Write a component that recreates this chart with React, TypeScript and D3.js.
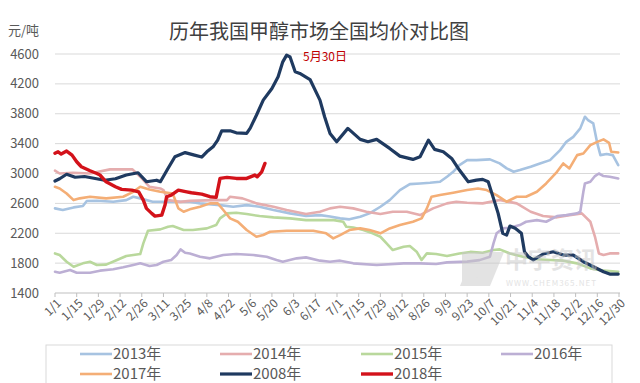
import React from "react";
import * as d3 from "d3";

const tickLabels = ["1/1","1/15","1/29","2/12","2/26","3/11","3/25","4/8","4/22","5/6","5/20","6/3","6/17","7/1","7/15","7/29","8/12","8/26","9/9","9/23","10/7","10/21","11/4","11/18","12/2","12/16","12/30"];
const yTicks = [1400, 1800, 2200, 2600, 3000, 3400, 3800, 4200, 4600];

const days2013 = [0,5,12,18,20.5,27,37.6,46,50.5,55,63,76,87,93.6,106.5,115,123.7,132,141,151.7,162,171,177.5,184,190,197,203,210,216,222.6,229,235.6,242,248.5,253,257,261,266,272,280.7,287,291.5,296,300,307,313,319.5,326,330,334.5,339,342,344,347.4,350,352,356,360,363.5];
const values2013 = [2533,2511,2546,2564,2631,2635,2622,2644,2689,2667,2622,2622,2622,2600,2577,2555,2577,2555,2511,2466,2430,2443,2425,2399,2386,2421,2466,2555,2644,2778,2858,2867,2876,2889,2957,3023,3113,3179,3179,3189,3135,3068,3023,3046,3090,3135,3179,3313,3424,3491,3604,3760,3715,3670,3403,3246,3260,3246,3113];

const days2014 = [0,3,11.6,22.6,35.5,50,55,61,68,70,73,81,87,102,111,113,121,130,141,149.5,162,171,177.5,184,192.5,201,210,218,227,235.6,244,253,259,266,276,287,298,307,315,324,332,340,345.5,348.5,351,354,358,363.5];
const values2014 = [3037,3000,3010,3000,3055,3055,2957,2822,2800,2778,2644,2620,2633,2644,2644,2689,2667,2600,2555,2511,2457,2488,2533,2555,2533,2488,2457,2488,2488,2443,2533,2600,2622,2608,2600,2644,2600,2488,2430,2413,2443,2466,2354,2153,1930,1908,1930,1930];

const days2015 = [0,3,7.5,12,18,22.6,27,33,40,46,55,57,60,68,73,76,83,89,98,104,106.5,111,117,123.7,132,141,151.7,162,180,186,188,192.5,199,205,210,214,218,225,229,233.4,236.6,240,246,253,261,268,276,283,287,293.6,302,311,319.5,328,337,345.5,354,363.5];
const values2015 = [1930,1908,1819,1752,1797,1819,1775,1780,1842,1895,1922,2065,2233,2252,2287,2296,2243,2243,2265,2310,2399,2466,2475,2457,2430,2413,2399,2376,2376,2354,2287,2278,2243,2199,2153,2065,1975,2020,2029,1953,1842,1930,1922,1895,1930,1950,1939,1975,1984,1930,1886,1851,1842,1833,1797,1730,1699,1685];

const days2016 = [0,3,9.7,14,22.6,29,37.6,44,50.5,55,61,65.6,70,75,78.5,81,84,87,93.6,100,108.6,117,128,136.6,143,147,156,162,171,177.5,184,192.5,207.6,225,235.6,246,253,266,274,280.7,283,285,289,293.6,300,304,311,317,324,330,337,339,341,342,345.5,348.5,351,354,358,363.5];
const values2016 = [1685,1672,1708,1672,1672,1699,1717,1744,1775,1797,1761,1775,1819,1842,1908,1984,1939,1930,1886,1864,1908,1922,1908,1886,1842,1819,1864,1877,1833,1819,1833,1797,1775,1797,1797,1788,1810,1820,1840,1886,2065,2199,2265,2274,2310,2354,2376,2354,2430,2443,2466,2488,2755,2867,2889,2966,3000,2966,2957,2934];

const days2017 = [0,3,7.5,12,16,22.6,33,44,50.5,55,61,68,76,79.6,83,87,93.6,100,105,108.6,113,118,123.7,130,134.4,138.8,149.5,158,166.7,175,179.6,184,190,197,203,210,216,222.6,231,236.6,240,243,248.5,257,266,273,278.6,285,291.5,298,304,311,317,324,328,332,337,341,345.5,350,354,357.6,359,363.5];
const values2017 = [2822,2800,2733,2644,2667,2689,2667,2689,2755,2822,2787,2755,2733,2533,2488,2520,2555,2600,2600,2511,2399,2354,2243,2153,2176,2220,2233,2233,2233,2199,2131,2176,2243,2265,2243,2199,2265,2310,2354,2399,2533,2689,2711,2742,2778,2800,2778,2711,2622,2689,2689,2755,2867,3023,3135,3068,3246,3268,3380,3424,3457,3411,3291,3282];

const days2008 = [0,3,7.5,13,19,32,39,46,53.6,59,65.6,68,73,77.4,84,90,94.7,98,102,105,107.6,113,117,123.7,126,130,134.4,140,144,147,149.5,151.7,155,158,164.6,171,174,177.5,181.8,189,197,202,207.6,216,222.6,231,235.6,241,245,250.6,256,261,266.7,272,276,279.6,284,286,289,291.5,293.6,297,301,303,305.5,308.7,315,321.6,328,334.5,341,347.5,354,358,363.5];
const values2008 = [2900,2930,2990,2950,2960,2910,2930,2980,3010,2890,2910,2890,3070,3225,3280,3246,3220,3290,3357,3447,3572,3572,3545,3537,3608,3780,3982,4139,4295,4495,4585,4560,4361,4340,4258,3982,3760,3537,3425,3604,3457,3425,3457,3336,3233,3189,3224,3447,3323,3291,3202,3046,2889,2912,2921,2889,2600,2466,2199,2176,2296,2266,2199,1953,1886,1842,1922,1953,1908,1908,1819,1752,1685,1654,1654];

const days2018 = [0,2,4,7.5,11,14,17,22.6,27,29,33,39,43,49.5,54,57,59,62.4,64.5,68.9,71,72,75,79.6,85,88,94.7,100,104,106.5,111,117,123.7,129,130.5,133.4,135.5];
const values2018 = [3270,3290,3260,3300,3246,3157,3090,3037,3000,2980,2889,2822,2787,2778,2755,2644,2533,2466,2430,2443,2577,2689,2711,2778,2755,2742,2724,2689,2680,2934,2948,2934,2934,2979,2956,3023,3135];

const seriesNames = ["2013年","2014年","2015年","2016年","2017年","2008年","2018年"];
const seriesDays = [days2013, days2014, days2015, days2016, days2017, days2008, days2018];
const seriesValues = [values2013, values2014, values2015, values2016, values2017, values2008, values2018];
const colors = ["#A7C3E1","#E5ADAE","#B9D89C","#BCAFD4","#F4AE76","#1F3A60","#D3121A"];
const widths = [2.6,2.6,2.6,2.6,2.6,3.2,3.4];

export default function App() {
  const W = 640, H = 383;
  const x = d3.scaleLinear().domain([0, 364]).range([55, 619]);
  const y = d3.scaleLinear().domain([1400, 4600]).range([293, 54]);
  const font = "'Noto Sans CJK SC', 'Noto Sans', sans-serif";
  const line = d3.line<[number, number]>().x(d => x(d[0])).y(d => y(d[1]));

  const legendItems = [
    { i: 0, lx: 80, ly: 354 }, { i: 1, lx: 220, ly: 354 }, { i: 2, lx: 361, ly: 354 }, { i: 3, lx: 501, ly: 354 },
    { i: 4, lx: 80, ly: 374 }, { i: 5, lx: 220, ly: 374 }, { i: 6, lx: 361, ly: 374 },
  ];

  return (
    <svg width={W} height={H} style={{ position: "absolute", left: 0, top: 0, background: "#fff" }} fontFamily={font}>
      <rect x={0} y={0} width={W} height={H} fill="#fff" />
      <text x={319} y={39} textAnchor="middle" fontSize={20} fill="#404040">历年我国甲醇市场全国均价对比图</text>
      <text x={8} y={35} fontSize={13} fill="#595959">元/吨</text>
      {yTicks.map(t => (
        <g key={t}>
          {t !== 1400 && <line x1={55} x2={620} y1={y(t)} y2={y(t)} stroke="#D9D9D9" strokeWidth={1} />}
          <text x={39} y={y(t)} dy="0.35em" textAnchor="end" fontSize={13} fill="#595959">{t}</text>
        </g>
      ))}
      <line x1={55} x2={620} y1={y(1400)} y2={y(1400)} stroke="#BFBFBF" strokeWidth={1} />
      {tickLabels.map((l, i) => (
        <g key={l}>
          <line x1={x(i * 14)} x2={x(i * 14)} y1={y(1400)} y2={y(1400) + 4} stroke="#BFBFBF" />
          <text transform={`translate(${x(i * 14) + 4},${y(1400) + 8}) rotate(-45)`} textAnchor="end" dy="0.35em" fontSize={12} fill="#595959">{l}</text>
        </g>
      ))}
      {seriesNames.map((n, s) => (
        <path key={n} d={line(seriesDays[s].map((d, k) => [d, seriesValues[s][k]] as [number, number])) || ""}
          fill="none" stroke={colors[s]} strokeWidth={widths[s]} strokeLinejoin="round" strokeLinecap="round" />
      ))}
      <text x={303} y={57} dy="0.35em" fontSize={12} fill="#C00000">5月30日</text>
      <g opacity={0.5}>
        <path d="M462,252 L492,252 L478,286 L462,286 Z M474,252 L480,252 L466,286 L460,286 Z" fill="#C8C8C8" />
        <path d="M480,252 L504,252 L490,286 L476,286 Z" fill="#C8C8C8" />
        <text x={505} y={268} fontSize={23} fontWeight="bold" fill="#C8C8C8">中宇资讯</text>
        <text x={506} y={286} fontSize={8} fill="#C8C8C8" letterSpacing={1}>WWW.CHEM365.NET</text>
      </g>
      <rect x={46} y={345} width={566} height={50} fill="none" stroke="#D9D9D9" />
      {legendItems.map(({ i, lx, ly }) => (
        <g key={i}>
          <line x1={lx} x2={lx + 32} y1={ly} y2={ly} stroke={colors[i]} strokeWidth={widths[i]} />
          <text x={lx + 33} y={ly} dy="0.35em" fontSize={15} fill="#595959">{seriesNames[i]}</text>
        </g>
      ))}
    </svg>
  );
}
